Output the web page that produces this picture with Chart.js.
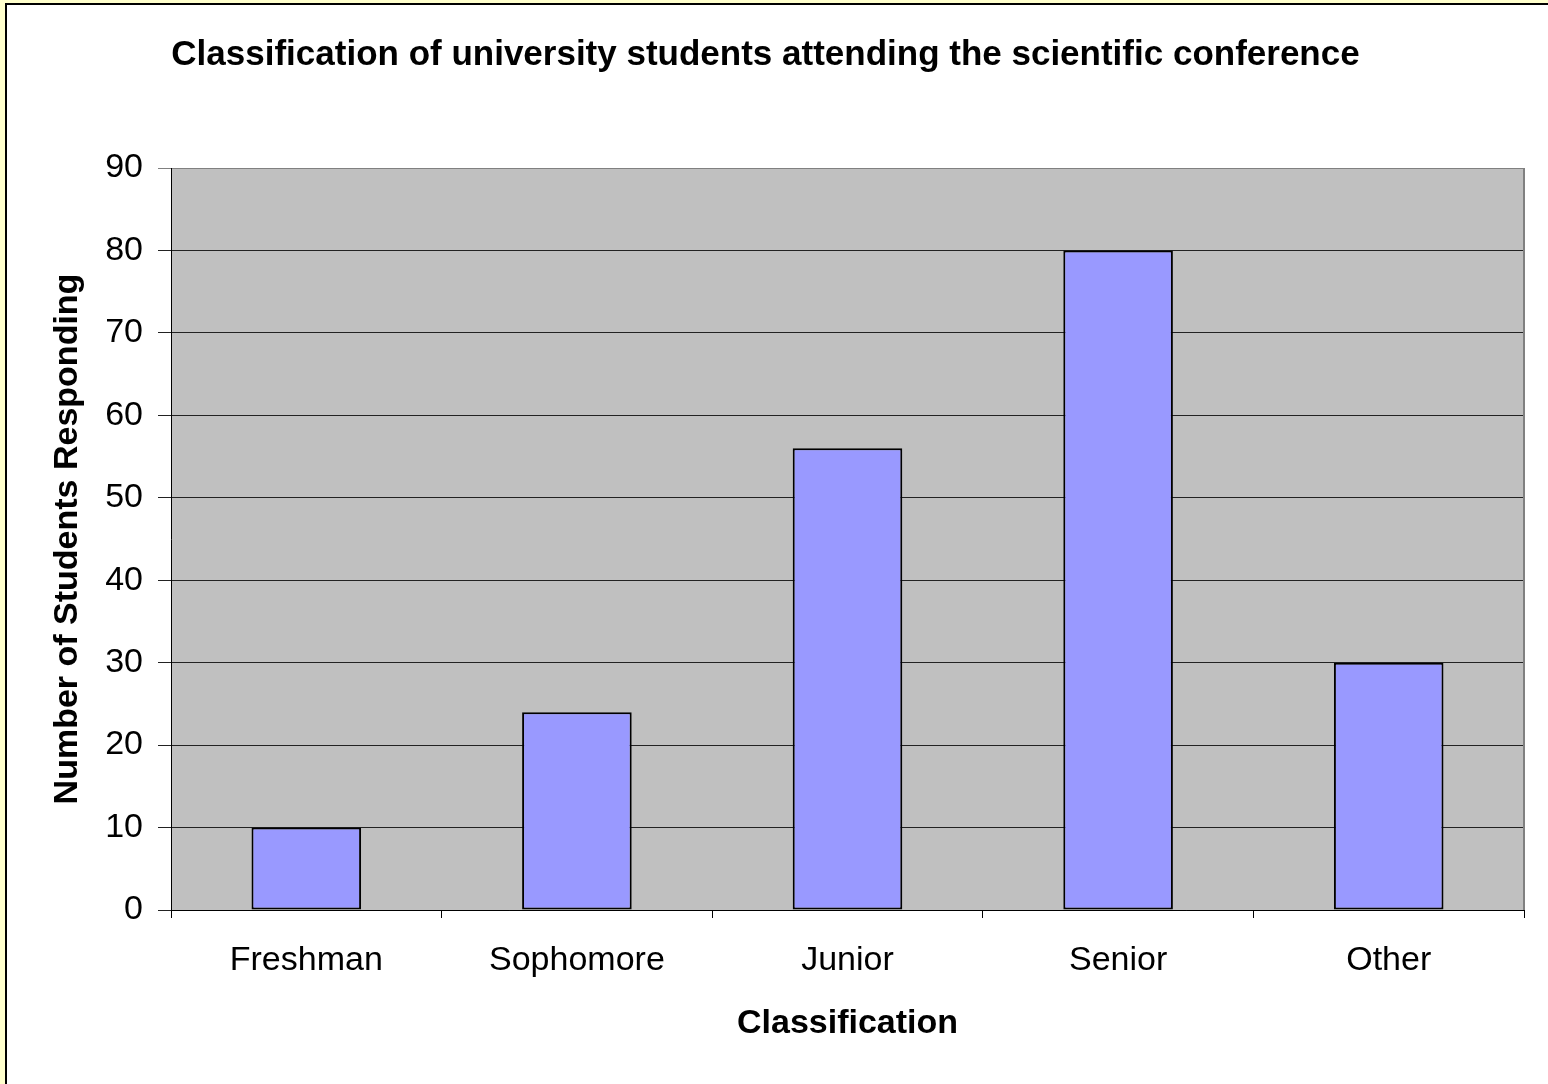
<!DOCTYPE html>
<html>
<head>
<meta charset="utf-8">
<script src="https://cdn.jsdelivr.net/npm/chart.js@4/dist/chart.umd.min.js"></script>
<style>
  html, body { margin: 0; padding: 0; background: #ffffcc; }
  #wrap {
    position: absolute; left: 5px; top: 3px;
    width: 1543px; height: 1081px;
    border-left: 2px solid #000; border-top: 2px solid #000;
    background: #fff; overflow: hidden;
  }
  canvas { display: block; }
</style>
</head>
<body>
<div id="wrap"><canvas id="chart" width="1541" height="1079"></canvas></div>
<script>
const categories = ["Freshman", "Sophomore", "Junior", "Senior", "Other"];
const students = [10, 24, 56, 80, 30];
const yTicks = [0, 10, 20, 30, 40, 50, 60, 70, 80, 90];

const FONT = "'Liberation Sans', Arial, sans-serif";

// grey plot area + grey frame on the right, like the old Excel chart
const plotArea = {
  id: "plotArea",
  beforeDraw(chart) {
    const { ctx, chartArea: a } = chart;
    ctx.save();
    ctx.fillStyle = "#c0c0c0";
    ctx.fillRect(a.left, a.top, a.right - a.left, a.bottom - a.top);
    ctx.restore();
  },
  afterDraw(chart) {
    const { ctx, chartArea: a } = chart;
    ctx.save();
    ctx.strokeStyle = "#808080";
    ctx.lineWidth = 2;
    ctx.beginPath();
    ctx.moveTo(a.right, a.top);
    ctx.lineTo(a.right, a.bottom);
    ctx.stroke();
    ctx.restore();
  },
};

new Chart(document.getElementById("chart"), {
  type: "bar",
  data: {
    labels: categories,
    datasets: [
      {
        label: "Students",
        data: students,
        backgroundColor: "#9999ff",
        borderColor: "#000",
        borderWidth: 2,
        borderSkipped: false,
        barPercentage: 0.405,
        categoryPercentage: 1,
      },
    ],
  },
  options: {
    responsive: false,
    animation: false,
    devicePixelRatio: 1,
    layout: { padding: { left: 0, right: 24, top: 0, bottom: 0 } },
    plugins: {
      legend: { display: false },
      tooltip: { enabled: false },
      title: {
        display: true,
        text: "Classification of university students attending the scientific conference",
        color: "#000",
        font: { family: FONT, size: 35, weight: "bold", lineHeight: 1.2 },
        padding: { top: 29, bottom: 92 },
      },
    },
    scales: {
      x: {
        offset: true,
        grid: {
          offset: true,
          drawOnChartArea: false,
          drawTicks: true,
          tickLength: 8,
          color: "#000",
        },
        border: { color: "#000", width: 1 },
        ticks: {
          color: "#000",
          padding: 22,
          font: { family: FONT, size: 34 },
          maxRotation: 0,
        },
        title: {
          display: true,
          text: "Classification",
          color: "#000",
          font: { family: FONT, size: 34, weight: "bold", lineHeight: 1.2 },
          padding: { top: 0, bottom: 40 },
        },
        afterFit(scale) {
          scale.height = 174;
        },
      },
      y: {
        min: 0,
        max: 90,
        afterBuildTicks(scale) {
          scale.ticks = yTicks.map((v) => ({ value: v }));
        },
        grid: {
          drawTicks: true,
          tickLength: 13,
          color: (c) => (c.tick && c.tick.value === 90 ? "#808080" : "#222"),
          lineWidth: 1,
        },
        border: { color: "#000", width: 1 },
        ticks: {
          color: "#000",
          padding: 15,
          font: { family: FONT, size: 34 },
        },
        title: {
          display: true,
          text: "Number of Students Responding",
          color: "#000",
          font: { family: FONT, size: 34, weight: "bold", lineHeight: 1.2 },
          padding: { top: 40, bottom: 0 },
        },
        afterFit(scale) {
          scale.width = 164;
        },
      },
    },
  },
  plugins: [plotArea],
});
</script>
</body>
</html>
